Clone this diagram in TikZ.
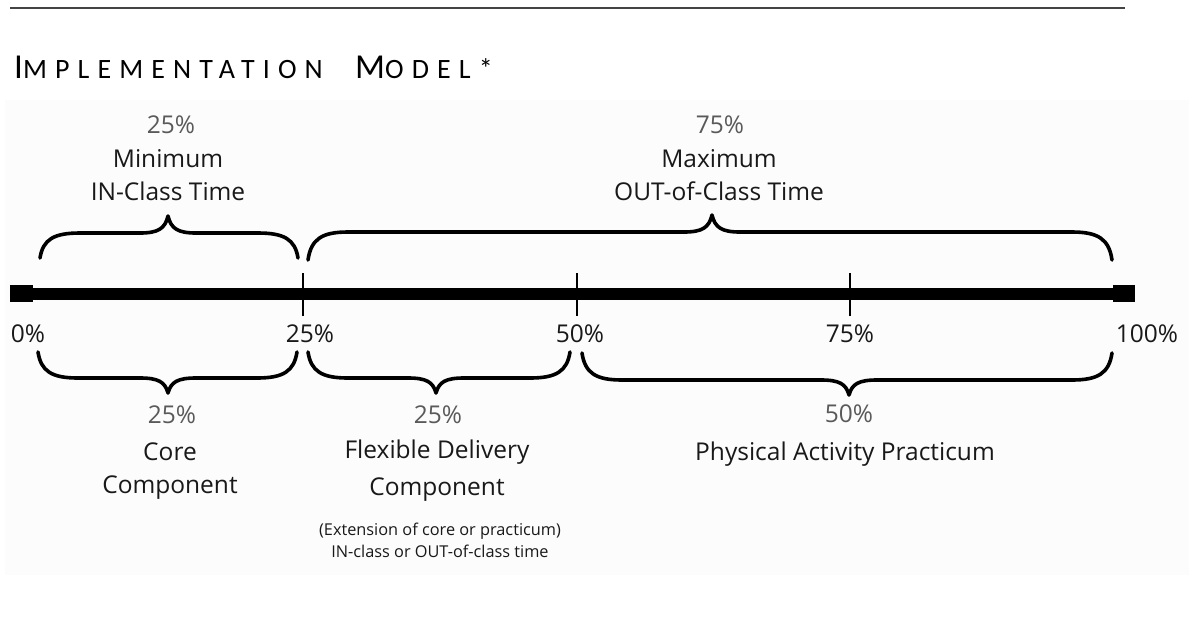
\documentclass[tikz,border=0pt]{standalone}
\usepackage{fontspec}
\setmainfont{Open Sans}
\newfontfamily\titlefont[LetterSpace=29]{Carlito}
\definecolor{pctgray}{HTML}{5A5A5A}
\definecolor{rulegray}{HTML}{444444}
\newcommand\mybrace[6]{%
  \draw[bracestyle] (#1,#4) .. controls (#1+3,{#5+0.25*(#4-#5)}) and (#1+14,#5) .. (#1+40,#5)
    -- (#3-28,#5) .. controls (#3-10,#5) and (#3-3,{#5+0.25*(#6-#5)}) .. (#3,#6)
    .. controls (#3+3,{#5+0.25*(#6-#5)}) and (#3+10,#5) .. (#3+28,#5)
    -- (#2-40,#5) .. controls (#2-14,#5) and (#2-3,{#5+0.25*(#4-#5)}) .. (#2,#4);}
\tikzset{
  bracestyle/.style={line width=3.6pt, line cap=round, line join=round, black},
  lab/.style={anchor=base, inner sep=0pt, font=\fontsize{24.5}{28}\selectfont, text=black!90},
  pct/.style={lab, text=pctgray},
  small/.style={anchor=base, inner sep=0pt, font=\fontsize{16.3}{19}\selectfont, text=black!90},
  tickmark/.style={line width=2.6pt, black}
}
\begin{document}
\begin{tikzpicture}[x=1pt,y=-1pt]
\useasboundingbox (0,0) rectangle (1189,622);
\fill[black!1] (5,100) rectangle (1189,575);
% top rule
\draw[rulegray, line width=2.4pt] (10,8) -- (1125,8);
% title
\node[anchor=base west, inner sep=0pt] (title) at (14,78)
  {\titlefont\fontsize{35}{38}\selectfont I\fontsize{28}{30}\selectfont MPLEMENTATION\hspace{18pt} \fontsize{35}{38}\selectfont M\fontsize{28}{30}\selectfont ODEL*};
% axis
\fill[black] (33,288) rectangle (1113,300);
\fill[black] (10,285) rectangle (33,302);
\fill[black] (1113,285) rectangle (1135,302);
\coordinate (t25) at (303,294);
\coordinate (t50) at (577,294);
\coordinate (t75) at (850,294);
\draw[tickmark] (303,273) -- (303,316);
\draw[tickmark] (577,273) -- (577,316);
\draw[tickmark] (850,273) -- (850,316);
% axis labels
\node[lab] (l0) at (28,342) {0\%};
\node[lab] (l25) at (310,342) {25\%};
\node[lab] (l50) at (580,342) {50\%};
\node[lab] (l75) at (850,342) {75\%};
\node[lab] (l100) at (1147,342) {100\%};
% top braces
\mybrace{40}{298}{168}{258}{233}{216}
\mybrace{308}{1112}{712}{260}{232}{215}
% bottom braces
\mybrace{38}{297}{168}{352}{378}{393}
\mybrace{308}{570}{436}{352}{378}{393}
\mybrace{582}{1112}{849}{353}{380}{395}
% top labels
\node[pct] (p1) at (171,133) {25\%};
\node[lab] (m1) at (168,167) {Minimum};
\node[lab] (m2) at (168,200) {IN-Class Time};
\node[pct] (p2) at (720,133) {75\%};
\node[lab] (x1) at (719,167) {Maximum};
\node[lab] (x2) at (719,200) {OUT-of-Class Time};
% bottom labels
\node[pct] (p3) at (172,423) {25\%};
\node[lab] (c1) at (170,460) {Core};
\node[lab] (c2) at (170,493) {Component};
\node[pct] (p4) at (438,423) {25\%};
\node[lab] (f1) at (437,458) {Flexible Delivery};
\node[lab] (f2) at (437,495) {Component};
\node[small] (s1) at (440,535) {(Extension of core or practicum)};
\node[small] (s2) at (440,557) {IN-class or OUT-of-class time};
\node[pct] (p5) at (849,422) {50\%};
\node[lab] (a1) at (845,460) {Physical Activity Practicum};
\end{tikzpicture}
\end{document}
